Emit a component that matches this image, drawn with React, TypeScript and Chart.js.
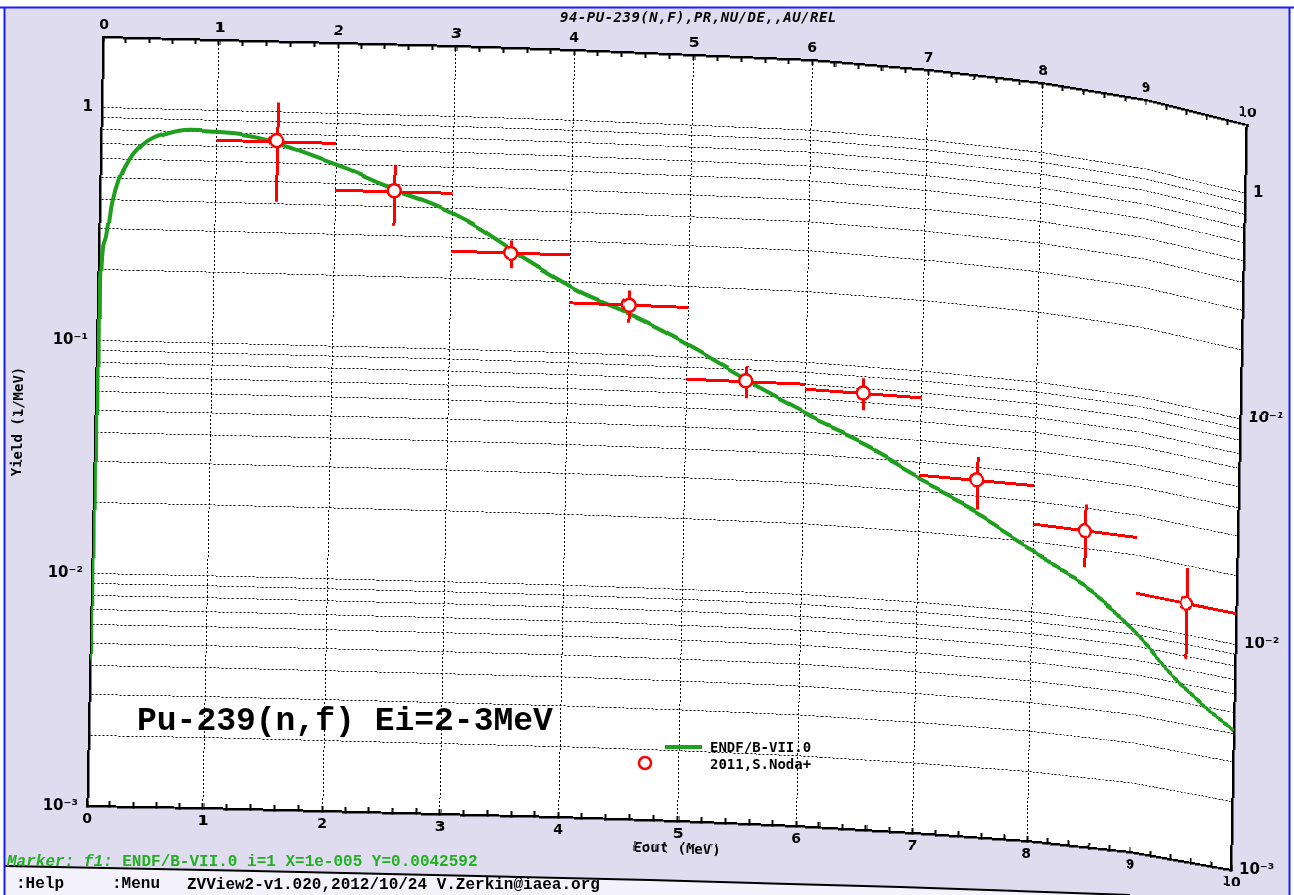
import React, { useEffect, useRef } from 'react';
import { Chart, registerables } from 'chart.js';

Chart.register(...registerables);

// ENDF/B-VII.0 evaluated curve (MeV, 1/MeV)
const endfEnergy = [0.00001, 0.0178, 0.053, 0.105, 0.172, 0.254, 0.395, 0.566, 0.766, 0.966, 1.19, 1.42, 1.64, 1.865, 2.09, 2.32, 2.55, 2.78, 3.0, 3.23, 3.57, 4.08, 4.53, 5.01, 5.52, 6.04, 6.53, 6.99, 7.5, 7.96, 8.5, 9.02, 9.42, 9.69, 10.0];
const endfYield = [0.0042592, 0.181, 0.269, 0.386, 0.505, 0.609, 0.721, 0.784, 0.815, 0.808, 0.791, 0.753, 0.697, 0.636, 0.58, 0.52, 0.4665, 0.4255, 0.382, 0.332, 0.258, 0.184, 0.148, 0.1125, 0.0808, 0.0593, 0.0459, 0.0344, 0.0257, 0.0188, 0.0139, 0.0091, 0.00617, 0.00505, 0.00413];

// EXFOR data 2011, S.Noda+
const nodaEnergy = [1.5, 2.5, 3.5, 4.5, 5.5, 6.5, 7.5, 8.5, 9.5];
const nodaBinLow = [1, 2, 3, 4, 5, 6, 7, 8, 9];
const nodaBinHigh = [2, 3, 4, 5, 6, 7, 8, 9, 10];
const nodaYield = [0.748, 0.469, 0.2626, 0.1635, 0.0807, 0.0767, 0.0355, 0.024, 0.0137];
const nodaError = [0.34, 0.137, 0.036, 0.026, 0.0128, 0.012, 0.009, 0.0073, 0.0059];

// axes
const xMin = 0;
const xMax = 10;
const xMinorStep = 0.2;
const yMin = 0.001;
const yMax = 2;
const yDecadeValues = [1, 0.1, 0.01, 0.001];
const yDecadeLabels = ['1', '10\u207B\u00B9', '10\u207B\u00B2', '10\u207B\u00B3'];

// perspective frame of the plot box (layout only)
const EDGE_X = [87, 203, 322, 440, 558, 678, 796, 913, 1027, 1131, 1232];
const EDGE_TOP = [37, 40, 43, 46, 50, 55, 60, 70, 83, 100, 125];
const EDGE_BOTTOM = [806, 808, 811, 814, 817, 821, 826, 833, 841, 852, 870];
const SLANT = 16;

const W = 1294;
const H = 895;

const isInteger = (v: number) => Math.abs(v - Math.round(v)) < 1e-6;
const decadeLabel = (v: number) => {
  const i = yDecadeValues.findIndex((d) => Math.abs(Math.log10(v) - Math.log10(d)) < 1e-6);
  return i >= 0 ? yDecadeLabels[i] : '';
};
const isHalfStep = (v: number) => {
  const m = v / Math.pow(10, Math.floor(Math.log10(v) + 1e-9));
  return Math.abs(m - 1.5) < 1e-6;
};

const xTickFont = { family: "'DejaVu Sans', sans-serif", size: 14, weight: 'bold' as const };
const yTickFont = { family: "'DejaVu Sans', sans-serif", size: 15, weight: 'bold' as const };
const monoBold = "'DejaVu Sans Mono', monospace";

const plotBackground = {
  id: 'plotBackground',
  beforeDraw(chart: any) {
    const { ctx, chartArea: a } = chart;
    ctx.save();
    ctx.fillStyle = '#ffffff';
    ctx.fillRect(a.left, a.top, a.right - a.left, a.bottom - a.top);
    ctx.restore();
  },
};

const errorBars = {
  id: 'errorBars',
  beforeDatasetDraw(chart: any, args: any) {
    if (args.index !== 0) return;
    const { ctx, chartArea: a } = chart;
    const xs = chart.scales.x;
    const ys = chart.scales.y;
    ctx.save();
    ctx.beginPath();
    ctx.rect(a.left, a.top, a.right - a.left, a.bottom - a.top);
    ctx.clip();
    ctx.strokeStyle = '#ff0000';
    ctx.lineWidth = 3;
    ctx.lineCap = 'butt';
    nodaYield.forEach((v, i) => {
      const px = Math.round(xs.getPixelForValue(nodaEnergy[i])) + 0.5;
      const py = Math.round(ys.getPixelForValue(v)) + 0.5;
      ctx.beginPath();
      ctx.moveTo(xs.getPixelForValue(nodaBinLow[i]), py);
      ctx.lineTo(xs.getPixelForValue(nodaBinHigh[i]), py);
      ctx.moveTo(px, ys.getPixelForValue(v + nodaError[i]));
      ctx.lineTo(px, ys.getPixelForValue(Math.max(v - nodaError[i], yMin)));
      ctx.stroke();
    });
    ctx.restore();
  },
};

// re-projects the finished drawing onto the tilted 3D-like frame
const perspective = {
  id: 'perspective',
  afterDraw(chart: any) {
    const canvas = chart.canvas as HTMLCanvasElement;
    const ctx = chart.ctx as CanvasRenderingContext2D;
    const cw = canvas.width;
    const ch = canvas.height;
    const { left: L, right: R, top: T, bottom: B } = chart.chartArea;
    const src = document.createElement('canvas');
    src.width = cw;
    src.height = ch;
    src.getContext('2d')!.drawImage(canvas, 0, 0);
    const mid = document.createElement('canvas');
    mid.width = cw;
    mid.height = ch;
    const m = mid.getContext('2d')!;
    m.imageSmoothingEnabled = false;
    const n = EDGE_X.length - 1;
    for (let X = 0; X < cw; X++) {
      let xs: number;
      let top: number;
      let bot: number;
      if (X < EDGE_X[0]) {
        xs = X; top = EDGE_TOP[0]; bot = EDGE_BOTTOM[0];
      } else if (X > EDGE_X[n]) {
        xs = X; top = EDGE_TOP[n]; bot = EDGE_BOTTOM[n];
      } else {
        let j = 0;
        while (j < n - 1 && X > EDGE_X[j + 1]) j++;
        const f = (X - EDGE_X[j]) / (EDGE_X[j + 1] - EDGE_X[j]);
        xs = L + ((j + f) / n) * (R - L);
        top = EDGE_TOP[j] + f * (EDGE_TOP[j + 1] - EDGE_TOP[j]);
        bot = EDGE_BOTTOM[j] + f * (EDGE_BOTTOM[j + 1] - EDGE_BOTTOM[j]);
      }
      const k = (bot - top) / (B - T);
      const sx = Math.min(cw - 1, Math.max(0, Math.round(xs)));
      m.drawImage(src, sx, 0, 1, ch, X, top - T * k, 1, ch * k);
    }
    const midTop = EDGE_TOP[Math.floor(n / 2)];
    const midBot = EDGE_BOTTOM[Math.floor(n / 2)];
    ctx.save();
    ctx.setTransform(1, 0, 0, 1, 0, 0);
    ctx.clearRect(0, 0, cw, ch);
    ctx.imageSmoothingEnabled = false;
    for (let Y = 0; Y < ch; Y++) {
      const v = (Y - midTop) / (midBot - midTop);
      const s = Math.round(SLANT * (1 - v));
      ctx.drawImage(mid, 0, Y, cw, 1, s, Y, cw, 1);
    }
    ctx.restore();
  },
};

export default function App() {
  const canvasRef = useRef<HTMLCanvasElement | null>(null);

  useEffect(() => {
    document.body.style.margin = '0';
    document.body.style.overflow = 'hidden';
    const canvas = canvasRef.current;
    if (!canvas) return;

    const xGrid = {
      color: (c: any) => (c.tick && isInteger(c.tick.value) ? '#000000' : 'rgba(0,0,0,0)'),
      lineWidth: 1,
      tickColor: '#000000',
      tickLength: -5,
      tickWidth: 2,
    };
    const xTicks = (padding: number) => ({
      stepSize: xMinorStep,
      autoSkip: false,
      maxRotation: 0,
      padding,
      color: '#000000',
      font: xTickFont,
      callback: (v: any) => (isInteger(Number(v)) ? String(Math.round(Number(v))) : ''),
    });
    const yTicks = (padding: number) => ({
      autoSkip: false,
      padding,
      color: '#000000',
      font: yTickFont,
      callback: (v: any) => decadeLabel(Number(v)),
    });

    const chart = new Chart(canvas, {
      type: 'line',
      data: {
        datasets: [
          {
            label: '2011,S.Noda+',
            data: nodaEnergy.map((e, i) => ({ x: e, y: nodaYield[i] })),
            showLine: false,
            pointRadius: 6.5,
            pointBorderWidth: 2.5,
            pointBorderColor: '#ff0000',
            pointBackgroundColor: '#ffffff',
            borderColor: '#ff0000',
            xAxisID: 'x',
            yAxisID: 'y',
          },
          {
            label: 'ENDF/B-VII.0',
            data: endfEnergy.map((e, i) => ({ x: e, y: endfYield[i] })),
            borderColor: '#1ea01e',
            borderWidth: 4,
            pointRadius: 0,
            cubicInterpolationMode: 'monotone',
            fill: false,
            xAxisID: 'x',
            yAxisID: 'y',
          },
        ],
      },
      options: {
        responsive: false,
        animation: false,
        events: [],
        layout: { padding: 0 },
        plugins: { legend: { display: false }, tooltip: { enabled: false }, title: { display: false } },
        scales: {
          x: {
            type: 'linear',
            position: 'bottom',
            min: xMin,
            max: xMax,
            afterFit: (s: any) => { s.height = 89; },
            ticks: xTicks(10),
            grid: xGrid,
            border: { color: '#000000', width: 2.5, dash: [2, 2] },
            title: {
              display: true,
              text: 'Eout (MeV)',
              color: '#000000',
              font: { family: monoBold, size: 14, weight: 'bold' },
              padding: { top: 0, bottom: 52 },
            },
          },
          x2: {
            type: 'linear',
            position: 'top',
            min: xMin,
            max: xMax,
            afterFit: (s: any) => { s.height = 37; },
            ticks: xTicks(8),
            grid: { ...xGrid, drawOnChartArea: false },
            border: { color: '#000000', width: 2.5 },
          },
          y: {
            type: 'logarithmic',
            position: 'left',
            min: yMin,
            max: yMax,
            afterFit: (s: any) => { s.width = 87; },
            ticks: yTicks(9),
            grid: {
              color: (c: any) => (c.tick && !isHalfStep(c.tick.value) && c.tick.value < 1.01 ? '#000000' : 'rgba(0,0,0,0)'),
              lineWidth: 1,
              drawTicks: false,
            },
            border: { color: '#000000', width: 2.5, dash: [2, 2] },
            title: {
              display: true,
              text: 'Yield (1/MeV)',
              color: '#000000',
              font: { family: monoBold, size: 14, weight: 'bold' },
              padding: { top: 2, bottom: 0 },
            },
          },
          y2: {
            type: 'logarithmic',
            position: 'right',
            min: yMin,
            max: yMax,
            afterFit: (s: any) => { s.width = 62; },
            ticks: yTicks(8),
            grid: { drawOnChartArea: false, drawTicks: false },
            border: { color: '#000000', width: 2.5 },
          },
        },
      } as any,
      plugins: [plotBackground, errorBars, perspective],
    });

    return () => chart.destroy();
  }, []);

  const abs = (o: React.CSSProperties): React.CSSProperties => ({ position: 'absolute', whiteSpace: 'pre', ...o });

  return (
    <div style={{ position: 'absolute', left: 0, top: 0, width: W, height: H, overflow: 'hidden', background: '#ffffff' }}>
      <svg width={W} height={H} style={{ position: 'absolute', left: 0, top: 0 }}>
        <rect x={5} y={8} width={1284} height={887} fill="#e0dcf0" />
        <polygon points="5,866 300,872 650,880 900,887 1130,895 5,895" fill="#f4f2fa" />
        <polyline points="5,866 300,872 650,880 900,887 1130,895" fill="none" stroke="#000000" strokeWidth={2} />
        <line x1={0} y1={7.5} x2={W} y2={7.5} stroke="#1a1aff" strokeWidth={2} />
        <line x1={4.5} y1={7} x2={4.5} y2={H} stroke="#1a1aff" strokeWidth={2} />
        <line x1={1289.5} y1={7} x2={1289.5} y2={H} stroke="#1a1aff" strokeWidth={2} />
      </svg>
      <canvas ref={canvasRef} width={W} height={H} style={{ position: 'absolute', left: 0, top: 0, display: 'block' }} />
      <div style={abs({ left: 560, top: 9, fontFamily: monoBold, fontWeight: 'bold', fontStyle: 'italic', fontSize: 14, letterSpacing: 0.5, color: '#000', lineHeight: '16px' })}>
        94-PU-239(N,F),PR,NU/DE,,AU/REL
      </div>
      <div style={abs({ left: 137, top: 705, fontFamily: "'Liberation Mono', monospace", fontWeight: 'bold', fontSize: 33, color: '#000', lineHeight: '34px' })}>
        Pu-239(n,f) Ei=2-3MeV
      </div>
      <svg width={W} height={H} style={{ position: 'absolute', left: 0, top: 0, pointerEvents: 'none' }}>
        <line x1={665} y1={747} x2={702} y2={747} stroke="#1ea01e" strokeWidth={4} />
        <circle cx={645} cy={763} r={6} stroke="#ff0000" strokeWidth={2.5} fill="#ffffff" />
      </svg>
      <div style={abs({ left: 710, top: 739, fontFamily: monoBold, fontWeight: 'bold', fontSize: 14, color: '#000', lineHeight: '17px' })}>
        ENDF/B-VII.0
      </div>
      <div style={abs({ left: 710, top: 756, fontFamily: monoBold, fontWeight: 'bold', fontSize: 14, color: '#000', lineHeight: '17px' })}>
        2011,S.Noda+
      </div>
      <div style={abs({ left: 7, top: 853, fontFamily: "'Liberation Mono', monospace", fontWeight: 'bold', fontSize: 16, color: '#22b022', lineHeight: '18px' })}>
        <span style={{ fontStyle: 'italic' }}>Marker: f1:</span> ENDF/B-VII.0 i=1 X=1e-005 Y=0.0042592
      </div>
      <div style={abs({ left: 16, top: 875, fontFamily: "'Liberation Mono', monospace", fontWeight: 'bold', fontSize: 16, color: '#000', lineHeight: '18px' })}>
        :Help
      </div>
      <div style={abs({ left: 112, top: 875, fontFamily: "'Liberation Mono', monospace", fontWeight: 'bold', fontSize: 16, color: '#000', lineHeight: '18px' })}>
        :Menu
      </div>
      <div style={abs({ left: 187, top: 876, fontFamily: "'Liberation Mono', monospace", fontWeight: 'bold', fontSize: 16, color: '#000', lineHeight: '18px' })}>
        ZVView2-v1.020,2012/10/24 V.Zerkin@iaea.org
      </div>
    </div>
  );
}
